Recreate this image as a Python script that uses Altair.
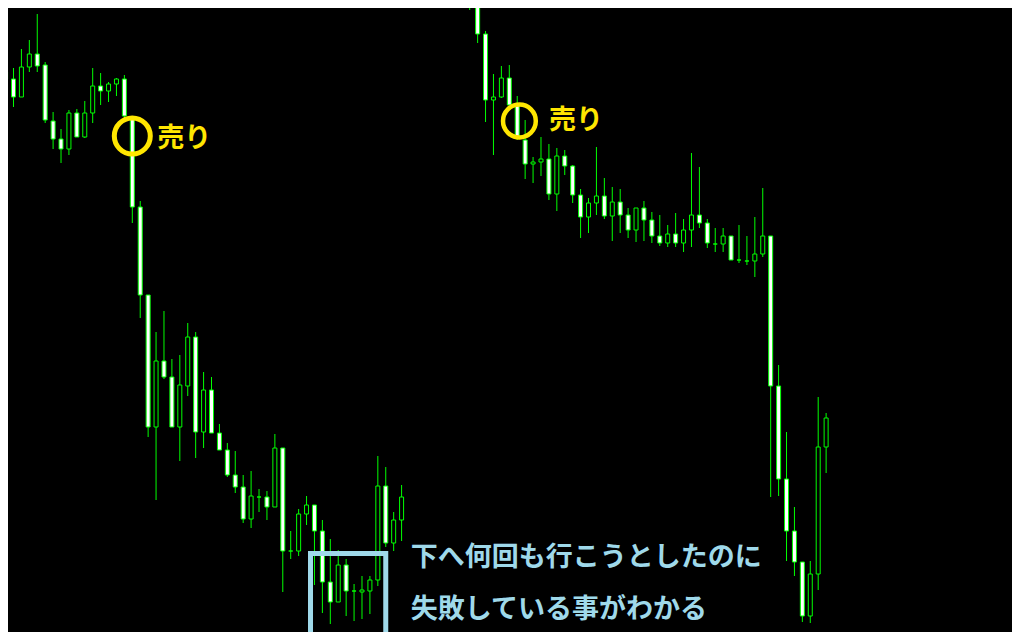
import altair as alt
import pandas as pd

# ---------------- data (price units) ----------------
# Left window (first chart)
left_open  = [568, 561, 543, 573, 586, 575, 519, 501, 491, 527, 503, 527, 554, 549, 556, 561,
              522, 433, 345, 213, 279, 263, 213, 254, 303, 208, 250, 207, 190, 165, 153, 121,
              143, 143, 133, 192, 89, 89, 126, 135, 109, 58, 38, 75, 49, 48, 49, 60, 154, 97, 120]
left_high  = [568, 572, 591, 600, 626, 578, 528, 511, 530, 531, 539, 572, 567, 558, 562, 565,
              523, 439, 345, 308, 329, 281, 285, 317, 308, 268, 263, 216, 197, 189, 165, 169,
              151, 149, 206, 192, 109, 131, 144, 135, 120, 101, 90, 81, 56, 64, 64, 184, 173, 128, 155]
left_low   = [532, 533, 543, 568, 568, 517, 491, 477, 485, 503, 502, 517, 535, 538, 544, 520,
              417, 322, 203, 140, 261, 213, 179, 244, 182, 192, 207, 190, 163, 147, 117, 112,
              128, 120, 133, 48, 81, 84, 115, 55, 27, 16, 38, 24, 19, 21, 26, 54, 93, 89, 99]
left_close = [561, 543, 573, 586, 574, 520, 501, 491, 527, 503, 527, 554, 549, 556, 561, 524,
              433, 345, 213, 279, 263, 213, 255, 303, 208, 250, 207, 190, 165, 153, 121, 144,
              143, 133, 192, 89, 89, 126, 135, 109, 58, 38, 75, 49, 49, 50, 60, 154, 97, 120, 143]

# Right window (second chart)
right_open  = [650, 639, 606, 540, 543, 562, 535, 500, 476, 478, 481, 446, 484, 474, 445, 423,
               437, 444, 424, 438, 425, 410, 432, 420, 404, 397, 406, 397, 410, 425, 417, 396,
               396, 404, 380, 379, 379, 386, 404, 254, 161, 109, 78, 24, 66, 193]
right_high  = [655, 639, 609, 566, 574, 575, 544, 520, 483, 503, 496, 492, 490, 475, 451, 442,
               493, 462, 453, 451, 432, 432, 439, 428, 425, 415, 427, 421, 487, 473, 421, 412,
               412, 404, 415, 404, 423, 452, 404, 275, 208, 133, 78, 79, 243, 227]
right_low   = [630, 597, 518, 485, 542, 535, 500, 461, 457, 464, 440, 429, 465, 437, 402, 407,
               425, 421, 399, 407, 402, 398, 399, 397, 394, 393, 393, 388, 393, 412, 392, 388,
               388, 380, 377, 375, 363, 383, 143, 144, 79, 64, 18, 17, 50, 167]
right_close = [638, 606, 540, 543, 562, 535, 503, 476, 478, 481, 446, 484, 474, 445, 423, 437,
               444, 424, 438, 425, 410, 432, 420, 404, 397, 406, 397, 410, 425, 417, 397, 396,
               404, 380, 380, 379, 386, 404, 254, 161, 109, 78, 24, 66, 193, 222]

LEFT_START = 0.0
RIGHT_START = 58.6

sell_label = "売り"
note_lines = ["下へ何回も行こうとしたのに", "失敗している事がわかる"]

# annotation anchors (slot, price)
sell_circle_left = (16.0, 504)
sell_circle_right = (64.875, 519)
sell_text_pos = [(19.15, 501), (68.6, 519)]
note_pos = [(51.15, 82), (51.15, 30)]
box_corners = (38.5, 48.0, 86.5, 5.5)

# ---------------- tables ----------------
rows = []
for i, (o, h, l, c) in enumerate(zip(left_open, left_high, left_low, left_close)):
    rows.append(dict(slot=LEFT_START + i, open=o, high=h, low=l, close=c))
for i, (o, h, l, c) in enumerate(zip(right_open, right_high, right_low, right_close)):
    rows.append(dict(slot=RIGHT_START + i, open=o, high=h, low=l, close=c))
candles = pd.DataFrame(rows)

GREEN = "#00ff00"
YELLOW = "#ffe600"
BLUE = "#9fd9ea"
FONT = "Noto Sans CJK JP"

xscale = alt.Scale(domain=[0.9375, 126.4375], nice=False, zero=False)
yscale = alt.Scale(domain=[8, 632], nice=False, zero=False)

X = lambda f: alt.X(f, type="quantitative", scale=xscale, axis=None)
Y = lambda f: alt.Y(f, type="quantitative", scale=yscale, axis=None)

base = alt.Chart(candles)

wicks = base.mark_rule(color=GREEN, strokeWidth=1, clip=True).encode(
    x=X("slot"), y=Y("low"), y2="high"
)

bodies = base.mark_bar(size=4, stroke=GREEN, strokeWidth=1, clip=True).encode(
    x=X("slot"),
    y=Y("open"),
    y2="close",
    fill=alt.condition("datum.open > datum.close", alt.value("#ffffff"), alt.value("#000000")),
)

circ_l = alt.Chart(pd.DataFrame([dict(slot=sell_circle_left[0], price=sell_circle_left[1])])).mark_point(
    shape="circle", filled=False, size=1295, strokeWidth=5, color=YELLOW, opacity=1
).encode(x=X("slot"), y=Y("price"))

circ_r = alt.Chart(pd.DataFrame([dict(slot=sell_circle_right[0], price=sell_circle_right[1])])).mark_point(
    shape="circle", filled=False, size=1075, strokeWidth=4.5, color=YELLOW, opacity=1
).encode(x=X("slot"), y=Y("price"))

sell_df = pd.DataFrame([dict(slot=s, price=p, label=sell_label) for s, p in sell_text_pos])
sell_text = alt.Chart(sell_df).mark_text(
    align="left", baseline="middle", font=FONT, fontSize=27, fontWeight="bold", color=YELLOW
).encode(x=X("slot"), y=Y("price"), text="label:N")

note_df = pd.DataFrame([dict(slot=s, price=p, label=t) for (s, p), t in zip(note_pos, note_lines)])
note_text = alt.Chart(note_df).mark_text(
    align="left", baseline="middle", font=FONT, fontSize=27, fontWeight="bold", color=BLUE
).encode(x=X("slot"), y=Y("price"), text="label:N")

box_df = pd.DataFrame([dict(x0=box_corners[0], x1=box_corners[1], y0=box_corners[2], y1=box_corners[3])])
box = alt.Chart(box_df).mark_rect(
    fillOpacity=0, stroke=BLUE, strokeWidth=5
).encode(x=X("x0"), x2="x1", y=Y("y0"), y2="y1")

chart = alt.layer(wicks, bodies, circ_l, circ_r, sell_text, box, note_text).properties(
    width=1004, height=624,
    background="#000000",
    padding=0,
    autosize=alt.AutoSizeParams(type="none"),
).configure_view(stroke=None, fill="#000000")

chart.save("out.html", embed_options={"renderer": "svg", "actions": False})
